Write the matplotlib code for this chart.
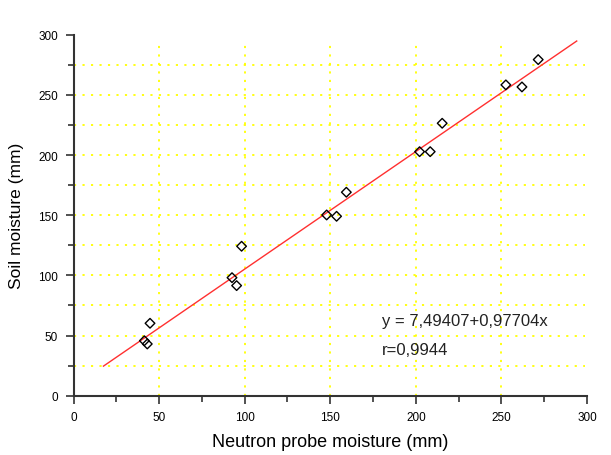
import matplotlib
matplotlib.use("Agg")
from matplotlib import pyplot as plt
from matplotlib.ticker import MultipleLocator

# measured points (neutron probe vs soil moisture, mm)
neutron = [44.7, 43.1, 41.4, 92.6, 95.3, 98.2, 147.9, 153.7, 159.4,
           202.2, 208.4, 215.4, 252.6, 262.0, 271.5]
soil = [60.2, 43.0, 45.7, 98.1, 91.5, 124.2, 150.2, 149.1, 169.1,
        202.8, 202.8, 226.4, 258.3, 256.6, 279.3]

# regression given on the chart
a, b = 7.49407, 0.97704
fit_x = [17.5, 294.0]
fit_y = [a + b * v for v in fit_x]

plt.rcParams['font.family'] = ['Liberation Sans', 'DejaVu Sans']

fig = plt.figure(figsize=(6.11, 4.56), dpi=100)
ax = fig.add_axes([0.1203, 0.130, 0.8404, 0.7917])

# yellow dotted grid
for gx in [50, 100, 150, 200, 250]:
    ax.plot([gx, gx], [0, 295], color='#ffff00', lw=1.3, ls=(0, (1.2, 3.5)), zorder=0)
for gy in range(25, 300, 25):
    ax.plot([0, 299], [gy, gy], color='#ffff00', lw=1.3, ls=(0, (1.2, 3.5)), zorder=0)

ax.plot(fit_x, fit_y, color='#ff3030', lw=1.0, zorder=2)
ax.scatter(neutron, soil, marker='D', s=24, facecolors='none', edgecolors='black',
           linewidths=1.0, zorder=3)

ax.text(180, 62.5, "y = 7,49407+0,97704x", fontsize=12, va='center', ha='left', color='#222222')
ax.text(180, 38.2, "r=0,9944", fontsize=12, va='center', ha='left', color='#222222')

ax.set_xlim(0, 300)
ax.set_ylim(0, 300)
ax.xaxis.set_major_locator(MultipleLocator(50))
ax.xaxis.set_minor_locator(MultipleLocator(25))
ax.yaxis.set_major_locator(MultipleLocator(50))
ax.yaxis.set_minor_locator(MultipleLocator(25))
ax.tick_params(which='major', length=6, width=1.2, color='#333333', labelsize=8.5, pad=5)
ax.tick_params(which='minor', length=4, width=1.2, color='#333333')

for s in ['top', 'right']:
    ax.spines[s].set_visible(False)
for s in ['left', 'bottom']:
    ax.spines[s].set_color('#333333')
    ax.spines[s].set_linewidth(1.5)

ax.set_xlabel("Neutron probe moisture (mm)", fontsize=13, labelpad=7)
ax.set_ylabel("Soil moisture (mm)", fontsize=12.5, labelpad=10)

fig.savefig("out.png", dpi=100)
